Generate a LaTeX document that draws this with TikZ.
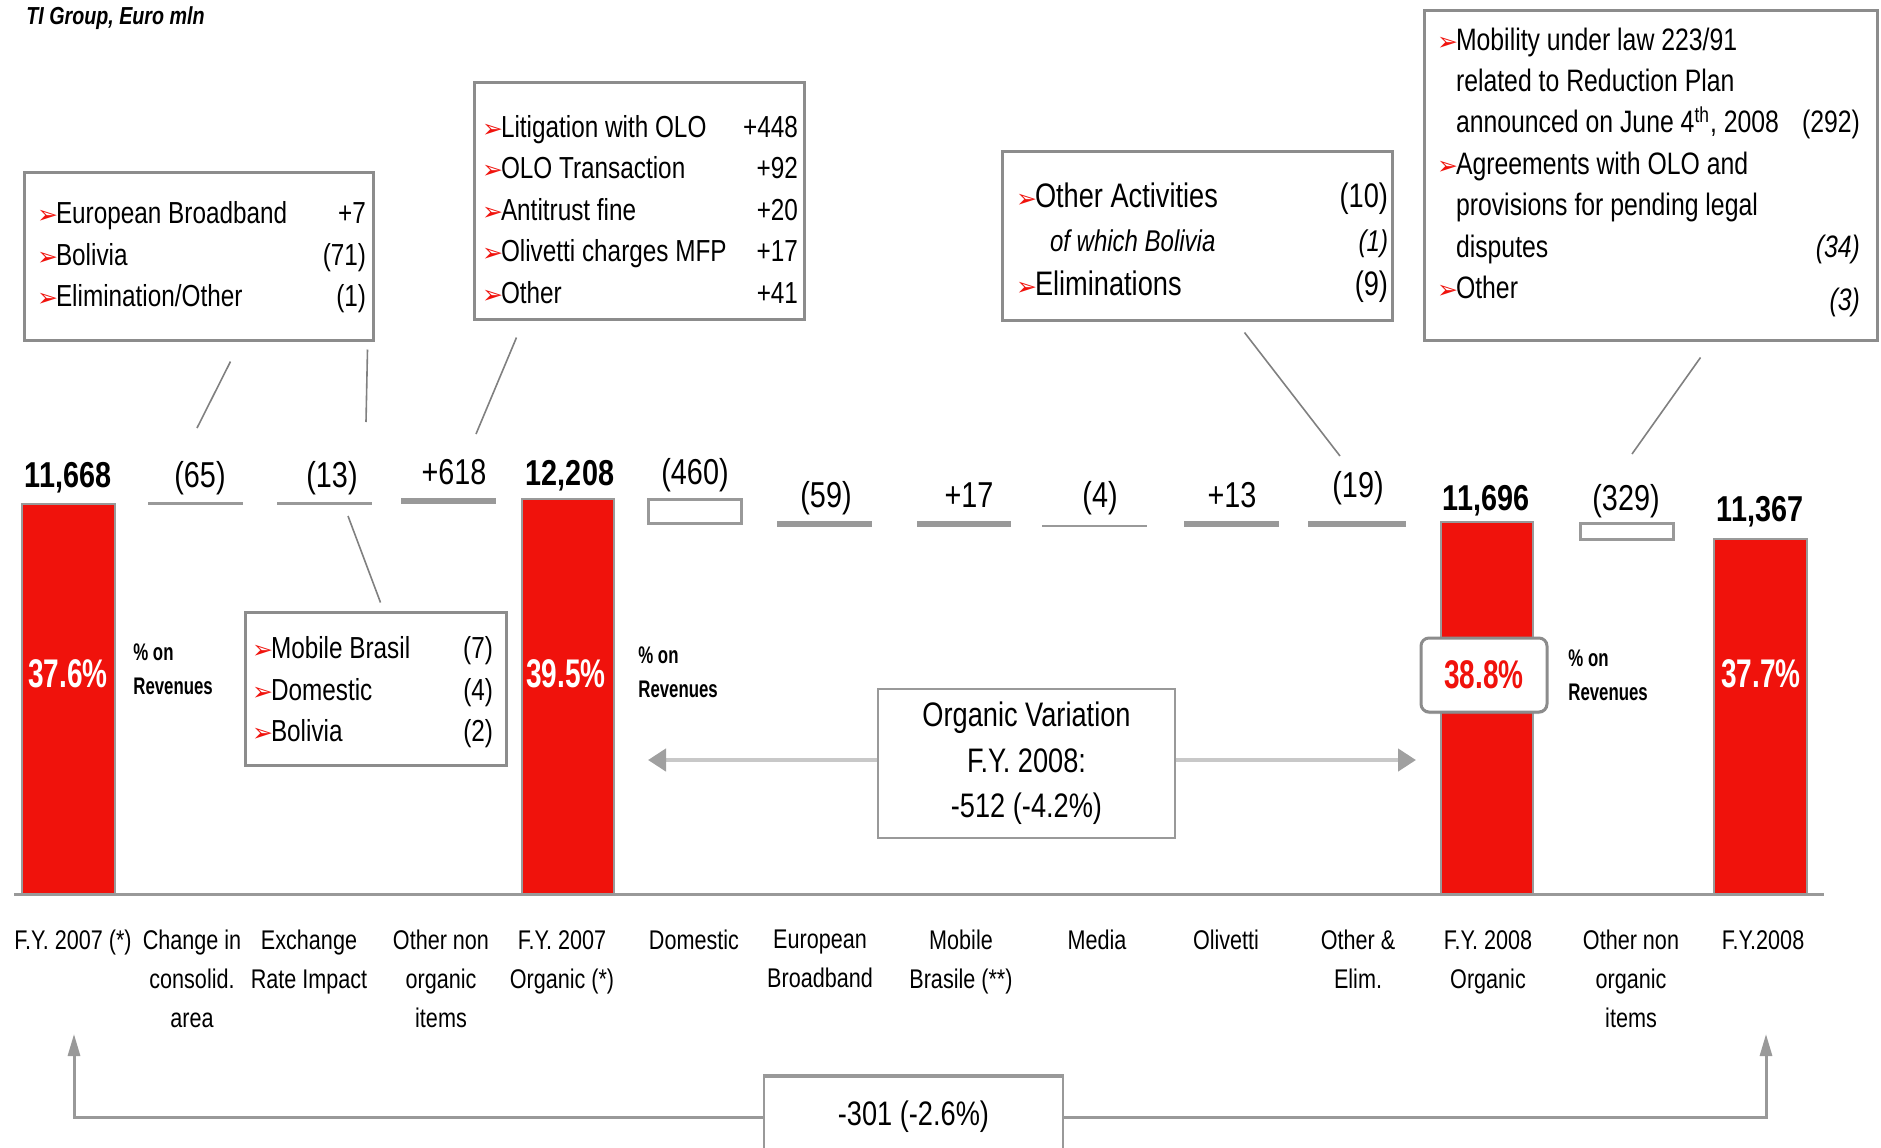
\documentclass[tikz,border=0pt]{standalone}
\usepackage{fontspec}
\setmainfont{Liberation Sans}[FakeStretch=0.8]
\newfontfamily\narrowfont{Liberation Sans}[FakeStretch=0.7]
\newfontfamily\dingfont{DejaVu Sans}
\usepackage{xcolor}
\usepackage{tikz}
\usetikzlibrary{arrows.meta, shadows}

\definecolor{barred}{RGB}{240,18,12}
\definecolor{linegray}{RGB}{153,153,153}
\definecolor{boxgray}{RGB}{140,140,140}
\definecolor{conngray}{RGB}{128,128,128}
\definecolor{arrowgray}{RGB}{200,200,200}
\definecolor{tipgray}{RGB}{160,160,160}

\newcommand{\bul}{\makebox[9.5pt][l]{\dingfont\fontsize{12.5}{12}\selectfont\color{barred}\char"27A2}}
\newcommand{\bulind}{\hspace*{9.5pt}}

\begin{document}
\begin{tikzpicture}[x=0.5pt, y=-0.5pt,
    callout/.style={draw=boxgray, line width=1.5pt, fill=white, inner sep=0pt},
    listtext/.style={inner sep=0pt, font=\fontsize{15.2}{20.7}\selectfont},
    vlab/.style={inner sep=0pt, font=\fontsize{18}{20}\selectfont},
    tot/.style={inner sep=0pt, font=\bfseries\fontsize{18}{20}\selectfont},
    cat/.style={inner sep=0pt, anchor=north, align=center,
                font=\fontsize{13.5}{19.5}\selectfont},
    pct/.style={inner sep=0pt, text=white,
                font=\narrowfont\bfseries\fontsize{20}{22}\selectfont},
    onrev/.style={inner sep=0pt, anchor=north west, align=left,
                  font=\narrowfont\bfseries\fontsize{12}{17}\selectfont},
    bar/.style={fill=barred, draw=linegray, line width=1.2pt},
    delta/.style={fill=linegray},
    hollow/.style={draw=linegray, line width=1.5pt, fill=white},
    conn/.style={draw=conngray, line width=0.8pt},
    grarrow/.style={draw=arrowgray, line width=2.2pt,
                    -{Triangle[length=9pt, width=11pt, color=tipgray]}},
    bkt/.style={draw=linegray, line width=1.5pt, -{Triangle[length=11pt, width=6pt]}}
  ]
    \useasboundingbox (0,0) rectangle (1881,1147);
    % Unit caption
    \node[anchor=base west, inner sep=0pt,
          font=\bfseries\itshape\fontsize{12.3}{14}\selectfont] (unit) at (26,24)
          {TI Group, Euro mln};
    % Totals
    \draw[bar] (22,504) rectangle (115,894);
    \draw[bar] (522,499) rectangle (614,894);
    \draw[bar] (1441,522) rectangle (1533,894);
    \draw[bar] (1714,539) rectangle (1807,894);
    % Variations
    \fill[delta] (148,502) rectangle (243,505);
    \fill[delta] (277,502) rectangle (372,505);
    \fill[delta] (401,498) rectangle (496,504);
    \draw[hollow] (648,499) rectangle (741,523);
    \fill[delta] (777,521) rectangle (872,527);
    \fill[delta] (917,521) rectangle (1011,527);
    \fill[delta] (1042,525) rectangle (1147,527);
    \fill[delta] (1184,521) rectangle (1279,527);
    \fill[delta] (1308,521) rectangle (1406,527);
    \draw[hollow] (1580,523) rectangle (1673,539);
    % Axis
    \draw[linegray, line width=1.5pt] (14,894) -- (1824,894);
    % Values above the bars
    \node[tot] (v07) at (68,478) {11,668};
    \node[vlab] (v65) at (200,478) {(65)};
    \node[vlab] (v13) at (332,478) {(13)};
    \node[vlab] (v618) at (454,472) {+618};
    \node[tot] (v07o) at (570,476) {12,208};
    \node[vlab] (v460) at (695,475) {(460)};
    \node[vlab] (v59) at (826,498) {(59)};
    \node[vlab] (v17) at (969,495) {+17};
    \node[vlab] (v4) at (1100,498) {(4)};
    \node[vlab] (v13b) at (1232,495) {+13};
    \node[vlab] (v19) at (1358,488) {(19)};
    \node[tot] (v08o) at (1486,501) {11,696};
    \node[vlab] (v329) at (1626,501) {(329)};
    \node[tot] (v08) at (1760,512) {11,367};
    % Margins on revenues
    \node[pct] (p07) at (68,674) {37.6\%};
    \node[pct] (p07o) at (566,674) {39.5\%};
    \node[draw=boxgray, line width=1.5pt, fill=white, rounded corners=4pt,
          minimum width=63pt, minimum height=37pt, inner sep=0pt, text=barred,
          font=\narrowfont\bfseries\fontsize{20}{22}\selectfont,
          drop shadow={shadow xshift=0pt, shadow yshift=-1pt, opacity=0.3}]
          (p08o) at (1484,675) {38.8\%};
    \node[pct] (p08) at (1761,674) {37.7\%};
    \node[onrev] (r07) at (133,643) {\% on\\Revenues};
    \node[onrev] (r07o) at (638,646) {\% on\\Revenues};
    \node[onrev] (r08o) at (1568,649) {\% on\\Revenues};
    % Category labels
    \node[cat] (c1) at (73,930) {F.Y. 2007 (*)};
    \node[cat] (c2) at (192,930) {Change in\\consolid.\\area};
    \node[cat] (c3) at (309,930) {Exchange\\Rate Impact};
    \node[cat] (c4) at (441,930) {Other non\\organic\\items};
    \node[cat] (c5) at (562,930) {F.Y. 2007\\Organic (*)};
    \node[cat] (c6) at (694,930) {Domestic};
    \node[cat] (c7) at (820,930) {European\\Broadband};
    \node[cat] (c8) at (961,930) {Mobile\\Brasile (**)};
    \node[cat] (c9) at (1097,930) {Media};
    \node[cat] (c10) at (1226,930) {Olivetti};
    \node[cat] (c11) at (1358,930) {Other \&\\Elim.};
    \node[cat] (c12) at (1488,930) {F.Y. 2008\\Organic};
    \node[cat] (c13) at (1631,930) {Other non\\organic\\items};
    \node[cat] (c14) at (1763,930) {F.Y.2008};
    % Callout: change in consolidation area
    \node[callout, minimum width=174.5pt, minimum height=84pt] (boxA) at (198.5,256) {};
    \node[listtext] (txtA) at (201.5,257) {%
      \begin{tabular*}{164.5pt}{@{}l@{\extracolsep{\fill}}r@{}}
        \bul European Broadband & +7\\
        \bul Bolivia & (71)\\
        \bul Elimination/Other & (1)
      \end{tabular*}};
    % Callout: other non organic items 2007
    \node[callout, minimum width=165pt, minimum height=118.5pt] (boxB) at (639,200.5) {};
    \node[listtext] (txtB) at (640,212) {%
      \begin{tabular*}{158pt}{@{}l@{\extracolsep{\fill}}r@{}}
        \bul Litigation with OLO & +448\\
        \bul OLO Transaction & +92\\
        \bul Antitrust fine & +20\\
        \bul Olivetti charges MFP & +17\\
        \bul Other & +41
      \end{tabular*}};
    % Callout: other and eliminations
    \node[callout, minimum width=195pt, minimum height=84.5pt] (boxC) at (1197,235.5) {};
    \node[listtext, font=\fontsize{17}{22}\selectfont] (txtC) at (1202,243) {%
      \begin{tabular*}{186pt}{@{}l@{\extracolsep{\fill}}r@{}}
        \bul Other Activities & (10)\\
        \hspace*{17pt}{\itshape\fontsize{15}{22}\selectfont of which Bolivia}
          & {\itshape\fontsize{15}{22}\selectfont (1)}\\
        \bul Eliminations & (9)
      \end{tabular*}};
    % Callout: other non organic items 2008
    \node[callout, minimum width=226.5pt, minimum height=165pt] (boxD) at (1650.5,175) {};
    \node[listtext, font=\fontsize{15.5}{20.7}\selectfont] (txtD) at (1648.5,169) {%
      \begin{tabular*}{211.5pt}{@{}l@{\extracolsep{\fill}}r@{}}
        \bul Mobility under law 223/91 & \\
        \bulind related to Reduction Plan & \\
        \bulind announced on June 4\textsuperscript{th}, 2008 & (292)\\
        \bul Agreements with OLO and & \\
        \bulind provisions for pending legal & \\
        \bulind disputes & \textit{(34)}\\
        \bul Other & \raisebox{-6pt}{\textit{(3)}}
      \end{tabular*}};
    % Callout: exchange rate impact
    \node[callout, minimum width=130.5pt, minimum height=76.5pt] (boxE) at (375.5,688.5) {};
    \node[listtext] (txtE) at (372.5,692) {%
      \begin{tabular*}{120.5pt}{@{}l@{\extracolsep{\fill}}r@{}}
        \bul Mobile Brasil & (7)\\
        \bul Domestic & (4)\\
        \bul Bolivia & (2)
      \end{tabular*}};
    % Callout leaders
    \draw[conn] ([shift={(208,20)}]boxA.south west) -- ([shift={(-3,-50)}]v65.center);
    \draw[conn] ([shift={(-7,8)}]boxA.south east) -- ([shift={(34,-56)}]v13.center);
    \draw[conn] ([shift={(44,17)}]boxB.south west) -- ([shift={(22,-38)}]v618.center);
    \draw[conn] ([shift={(244,11)}]boxC.south west) -- ([shift={(-18,-32)}]v19.center);
    \draw[conn] ([shift={(278,16)}]boxD.south west) -- ([shift={(6,-47)}]v329.center);
    \draw[conn] ([shift={(16,38)}]v13.center) -- ([shift={(137,-8)}]boxE.north west);
    % Organic variation
    \node[draw=linegray, line width=1pt, fill=white, minimum width=148.5pt,
          minimum height=74.5pt, align=center, inner sep=0pt,
          font=\fontsize{17}{22.75}\selectfont] (orgbox) at (1026.5,763.5)
          {Organic Variation\\F.Y. 2008:\\-512 (-4.2\%)};
    \coordinate (orgL) at (648,760);
    \coordinate (orgR) at (1416,760);
    \draw[grarrow] (orgbox.west |- orgL) -- (orgL);
    \draw[grarrow] (orgbox.east |- orgR) -- (orgR);
    % Total variation
    \node[draw=linegray, line width=1pt, fill=white, anchor=north,
          minimum width=149.5pt, minimum height=40pt, inner sep=0pt,
          font=\fontsize{17}{20}\selectfont] (netbox) at (913.5,1076) {-301 (-2.6\%)};
    \draw[linegray, line width=2pt] (netbox.north west) -- (netbox.north east);
    \coordinate (brL) at (74,1034);
    \coordinate (brR) at (1766,1034);
    \draw[bkt] (netbox.west) -| (brL);
    \draw[bkt] (netbox.east) -| (brR);
\end{tikzpicture}
\end{document}
